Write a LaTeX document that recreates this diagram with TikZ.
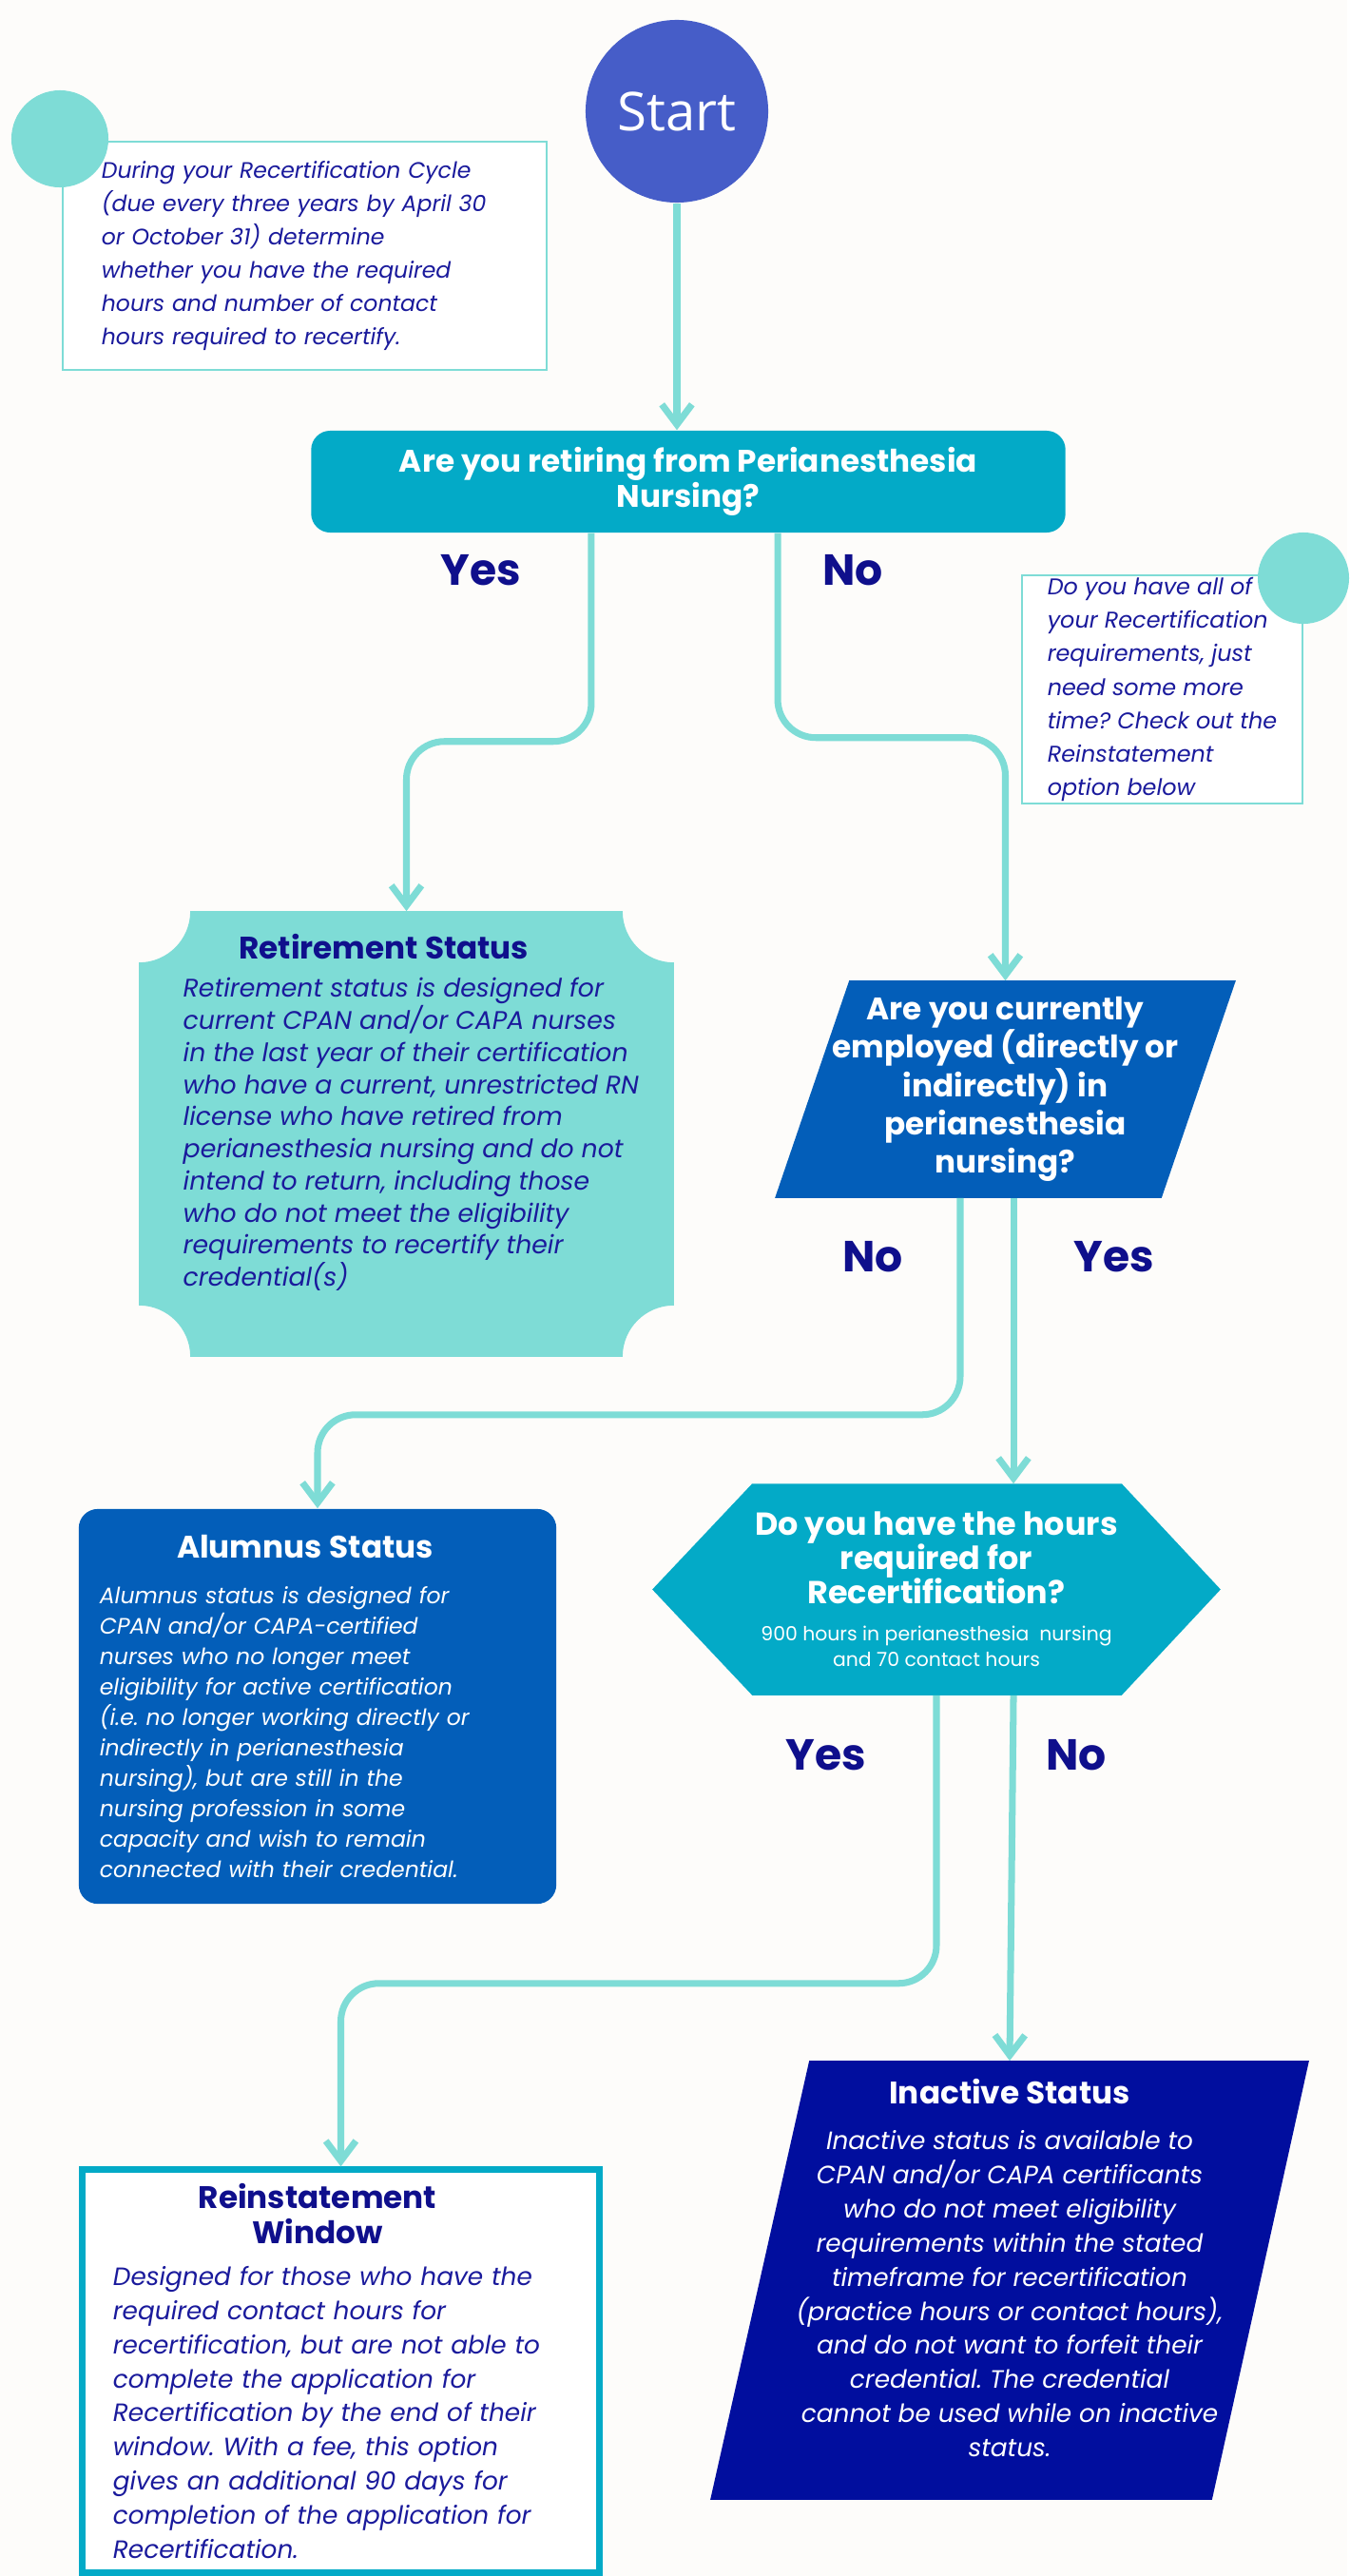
\documentclass[tikz,border=0pt]{standalone}
\usepackage{fontspec}
\setmainfont{Poppins}
\newfontfamily\startfont{Open Sans}
\usetikzlibrary{positioning,calc,arrows.meta,backgrounds}

\definecolor{pagebg}{HTML}{FDFCFA}
\definecolor{aqua}{HTML}{7EDCD6}
\definecolor{startblue}{HTML}{465DC8}
\definecolor{cyanbox}{HTML}{03AAC7}
\definecolor{midblue}{HTML}{035EB9}
\definecolor{navybox}{HTML}{010E9E}
\definecolor{inkblue}{HTML}{1A1A9C}
\definecolor{titleblue}{HTML}{0F0F8C}

\tikzset{
  conn/.style={draw=aqua, line width=2pt, rounded corners=0.4cm,
    -{Straight Barb[length=6pt,width=9pt]}},
  shapebox/.style={draw=none, inner sep=0pt},
  note/.style={draw=aqua, line width=0.6pt, fill=white, align=left, inner ysep=0pt,
    text=inkblue, font={\fontsize{6.7}{10}\selectfont\itshape}},
  dot/.style={circle, fill=aqua, inner sep=0pt},
  answer/.style={text=titleblue, font={\fontsize{13}{15}\selectfont\bfseries}},
  question/.style={text=white, align=center},
}

\newcommand{\boxtitle}[2]{{\upshape\bfseries\fontsize{9.3}{11}\selectfont\makebox[#1]{#2}}}

\begin{document}
\frenchspacing
\begin{tikzpicture}[x=0.01cm,y=-0.01cm]
    \begin{scope}[on background layer]
      \fill[pagebg] (0,0) rectangle (1417,2709);
    \end{scope}

    \node(start) [circle, fill=startblue, minimum size=1.92cm, inner sep=0pt, text=white,
      font=\startfont\fontsize{16}{18}\selectfont] at (712,117) {Start};

    \node(note1) [note, text width=4.27cm, inner xsep=0.41cm, minimum height=2.4cm] at (320.5,269)
      {During your Recertification Cycle\\(due every three years by April 30\\or October 31) determine\\whether you have the required\\hours and number of contact\\hours required to recertify.};
    \node(dot1) [dot, minimum size=1.02cm] at (63,146) {};

    \node(q1) [question, fill=cyanbox, rounded corners=0.2cm, minimum width=7.93cm, minimum height=1.07cm,
      font={\fontsize{9.3}{10.4}\selectfont\bfseries}] at (724,506.5)
      {Are you retiring from Perianesthesia\\Nursing?};

    \node(yes1) [answer] at (506,600) {Yes};
    \node(no1) [answer] at (897,600) {No};

    \node(note2) [note, font={\fontsize{6.8}{10}\selectfont\itshape}, minimum width=2.95cm, minimum height=2.4cm] at (1222.5,725)
      {Do you have all of\\your Recertification\\requirements, just\\need some more\\time? Check out the\\Reinstatement\\option below};
    \node(dot2) [dot, minimum size=0.96cm] at (1371,608) {};

    \node(retire) [shapebox, minimum width=5.61cm, minimum height=4.67cm] at (427.5,1192.5) {};
    \fill[aqua] ([xshift=0.54cm]retire.north west) -- ([xshift=-0.54cm]retire.north east)
      arc[start angle=180, end angle=270, radius=0.54cm] -- ([yshift=0.54cm]retire.south east)
      arc[start angle=90, end angle=180, radius=0.54cm] -- ([xshift=0.54cm]retire.south west)
      arc[start angle=0, end angle=90, radius=0.54cm] -- ([yshift=-0.54cm]retire.north west)
      arc[start angle=270, end angle=360, radius=0.54cm] -- cycle;
    \node(retiretext) [anchor=west, align=left, text=inkblue, inner sep=0pt,
      font={\fontsize{7.6}{9.6}\selectfont\itshape}] at (192,1170)
      {\boxtitle{4.22cm}{\color{titleblue}Retirement Status}\\[1.8pt]
       Retirement status is designed for\\current CPAN and/or CAPA nurses\\in the last year of their certification\\who have a current, unrestricted RN\\license who have retired from\\perianesthesia nursing and do not\\intend to return, including those\\who do not meet the eligibility\\requirements to recertify their\\credential(s)};

    \node(q2) [shapebox, question, minimum width=4.83cm, minimum height=2.27cm,
      font={\fontsize{9.3}{11.5}\selectfont\bfseries}] at (1057.5,1145.5)
      {Are you currently\\employed (directly or\\indirectly) in\\perianesthesia\\nursing?};
    \begin{scope}[on background layer]
      \fill[midblue] (q2.south west) -- ([xshift=0.78cm]q2.north west) -- (q2.north east)
        -- ([xshift=-0.78cm]q2.south east) -- cycle;
    \end{scope}

    \node(no2) [answer] at (918,1322) {No};
    \node(yes2) [answer] at (1172,1322) {Yes};

    \node(alum) [fill=midblue, rounded corners=0.2cm, minimum width=5.02cm, minimum height=4.15cm,
      inner xsep=0.22cm, text width=4.58cm, align=left, text=white,
      font={\fontsize{6.7}{9.1}\selectfont\itshape}] at (334,1794.5)
      {\boxtitle{4.32cm}{Alumnus Status}\\[4.6pt]
       Alumnus status is designed for\\CPAN and/or CAPA-certified\\nurses who no longer meet\\eligibility for active certification\\(i.e. no longer working directly or\\indirectly in perianesthesia\\nursing), but are still in the\\nursing profession in some\\capacity and wish to remain\\connected with their credential.};

    \node(q3) [shapebox, question, minimum width=5.96cm, minimum height=2.21cm,
      font={\fontsize{9.5}{10.2}\selectfont\bfseries}] at (985,1671.5)
      {Do you have the hours\\required for\\Recertification?\\[1pt]
       {\mdseries\fontsize{5.8}{7.7}\selectfont 900 hours in perianesthesia\ \ nursing}\\[-2.5pt]
       {\mdseries\fontsize{5.8}{7.7}\selectfont and 70 contact hours}};
    \begin{scope}[on background layer]
      \fill[cyanbox] (q3.west) -- ([xshift=1.05cm]q3.north west) -- ([xshift=-1.04cm]q3.north east)
        -- (q3.east) -- ([xshift=-1.04cm]q3.south east) -- ([xshift=1.05cm]q3.south west) -- cycle;
    \end{scope}

    \node(yes3) [answer] at (869,1846) {Yes};
    \node(no3) [answer] at (1132,1846) {No};

    \node(reinst) [draw=cyanbox, line width=2pt, fill=white, minimum width=5.43cm, minimum height=4.23cm,
      inner xsep=0.32cm, text width=4.79cm, align=left, text=inkblue,
      font={\fontsize{7.5}{10.2}\selectfont\itshape}] at (358.5,2493.5)
      {\boxtitle{4.3cm}{\color{titleblue}Reinstatement}\\[0.3pt]
       \boxtitle{4.3cm}{\color{titleblue}Window}\\[2.3pt]
       Designed for those who have the\\required contact hours for\\recertification, but are not able to\\complete the application for\\Recertification by the end of their\\window. With a fee, this option\\gives an additional 90 days for\\completion of the application for\\Recertification.};

    \node(inact) [shapebox, align=center, text=white, font={\fontsize{7.5}{10.2}\selectfont\itshape}]
      [minimum width=6.28cm, minimum height=4.6cm] at (1062,2398)
      {\boxtitle{4cm}{Inactive Status}\\[3.4pt]
       Inactive status is available to\\CPAN and/or CAPA certificants\\who do not meet eligibility\\requirements within the stated\\timeframe for recertification\\(practice hours or contact hours),\\and do not want to forfeit their\\credential. The credential\\cannot be used while on inactive\\status.\\[-0.1cm]\mbox{}};
    \begin{scope}[on background layer]
      \fill[navybox] (inact.south west) -- ([xshift=1.04cm]inact.north west) -- (inact.north east)
        -- ([xshift=-1.02cm]inact.south east) -- cycle;
    \end{scope}

    \draw[conn] (start.south) -- (start.south |- q1.north);
    \draw[conn] ([xshift=-1.02cm]q1.south) -- ++(0,219) -| (retire.north);
    \draw[conn] ([xshift=0.94cm]q1.south) -- ++(0,215) -| (q2.north);
    \draw[conn] ([xshift=-0.475cm]q2.south) -- ++(0,228) -| (alum.north);
    \draw[conn] ([xshift=0.085cm]q2.south) -- ([xshift=0.085cm]q2.south |- q3.north);
    \draw[conn] (q3.south) -- ++(0,303) -| (reinst.north);
    \draw[conn] ([xshift=0.81cm]q3.south) -- (inact.north);
\end{tikzpicture}
\end{document}
